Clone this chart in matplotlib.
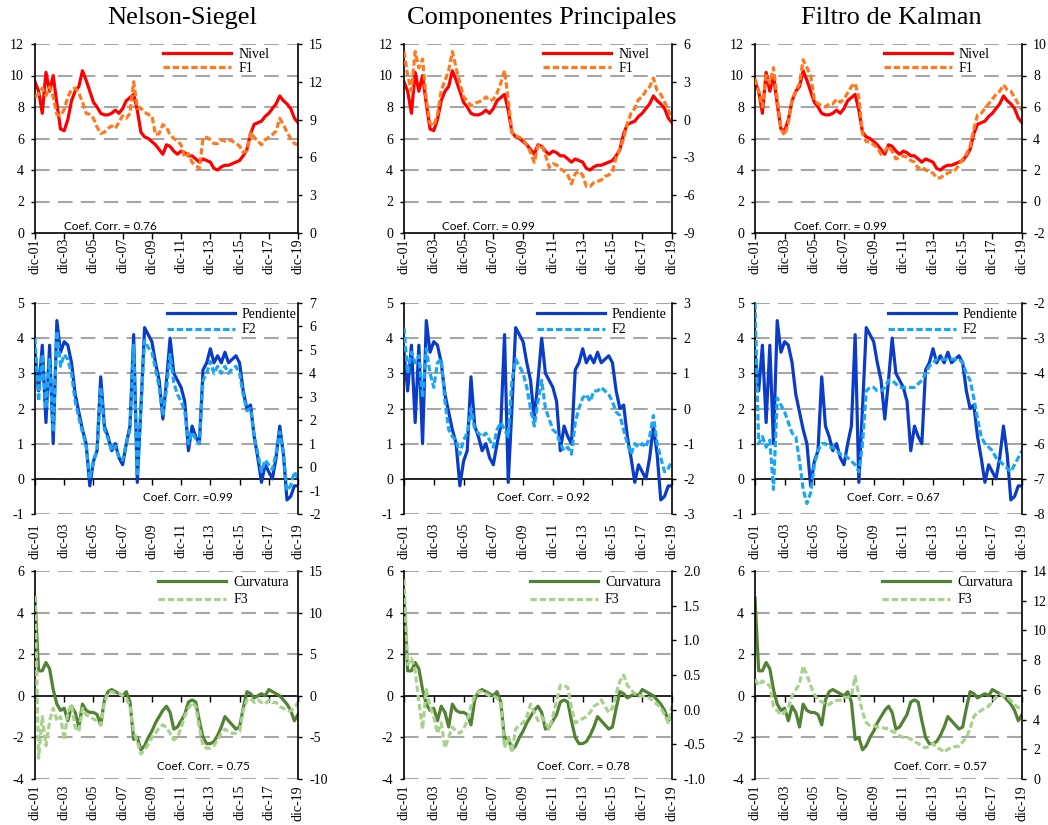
import numpy as np
import pandas as pd
import matplotlib
matplotlib.use('Agg')
import matplotlib.pyplot as plt
import matplotlib.dates as mdates

plt.rcParams['font.family'] = 'Liberation Serif'
plt.rcParams['axes.unicode_minus'] = False

# quarterly samples, dic-01 .. dic-19
dates = pd.date_range('2001-12-01', periods=73, freq='3MS')
tick_dates = pd.date_range('2001-12-01', periods=10, freq='24MS')
tick_labels = ['dic-01', 'dic-03', 'dic-05', 'dic-07', 'dic-09',
               'dic-11', 'dic-13', 'dic-15', 'dic-17', 'dic-19']

titles = ['Nelson-Siegel', 'Componentes Principales', 'Filtro de Kalman']
factor_names = ['Nivel', 'Pendiente', 'Curvatura']
pc_names = ['F1', 'F2', 'F3']

nivel = [9.6, 9.0, 7.6, 10.2, 9.0, 10.0, 8.2, 6.6,
         6.5, 7.2, 8.4, 9.0, 9.3, 10.3, 9.7, 9.0,
         8.3, 8.0, 7.6, 7.5, 7.5, 7.6, 7.8, 7.6,
         7.9, 8.4, 8.6, 8.8, 7.8, 6.4, 6.1, 6.0,
         5.8, 5.6, 5.3, 5.0, 5.6, 5.5, 5.2, 5.0,
         5.2, 5.1, 4.9, 4.9, 4.7, 4.5, 4.7, 4.6,
         4.5, 4.1, 4.0, 4.2, 4.3, 4.3, 4.4, 4.5,
         4.6, 4.9, 5.3, 6.3, 6.9, 7.0, 7.1, 7.4,
         7.6, 7.9, 8.2, 8.7, 8.4, 8.2, 7.9, 7.3, 7.0]

pendiente = [3.6, 2.5, 3.8, 1.6, 3.8, 1.0, 4.5, 3.6,
             3.9, 3.8, 3.3, 2.4, 1.9, 1.4, 1.0, -0.2,
             0.5, 0.8, 2.9, 1.5, 1.2, 0.8, 1.0, 0.6,
             0.4, 1.0, 1.5, 4.1, -0.1, 2.0, 4.3, 4.1,
             3.9, 3.3, 2.8, 1.7, 2.8, 4.0, 3.0, 2.8,
             2.6, 2.2, 0.8, 1.5, 1.2, 1.0, 3.1, 3.3,
             3.7, 3.3, 3.5, 3.3, 3.6, 3.3, 3.4, 3.5,
             3.3, 2.5, 2.0, 2.1, 1.2, 0.6, -0.1, 0.4,
             0.2, 0.0, 0.6, 1.5, 0.7, -0.6, -0.5, -0.2, -0.2]

curvatura = [4.7, 1.2, 1.2, 1.6, 1.3, 0.3, -0.4, -0.7,
             -0.6, -1.2, -0.5, -0.8, -1.5, -0.4, -0.7, -0.8,
             -0.8, -0.9, -1.4, -0.2, 0.2, 0.3, 0.2, 0.1,
             0.0, 0.2, -0.3, -2.1, -2.0, -2.6, -2.4, -2.0,
             -1.7, -1.3, -1.0, -0.7, -0.5, -0.8, -1.6, -1.5,
             -1.2, -0.9, -0.3, -0.2, -0.3, -1.2, -2.0, -2.3,
             -2.3, -2.2, -1.9, -1.5, -1.0, -1.2, -1.4, -1.6,
             -1.5, -0.6, 0.2, 0.1, -0.1, 0.0, 0.1, 0.0,
             0.3, 0.2, 0.1, 0.0, -0.2, -0.4, -0.7, -1.2, -0.9]

f1_ns = [10.8, 11.0, 11.5, 10.9, 11.6, 10.8, 9.4, 9.3,
         9.8, 10.8, 11.4, 11.5, 11.1, 10.4, 9.5, 9.4,
         9.1, 8.4, 7.9, 8.0, 8.3, 8.5, 8.3, 8.8,
         9.3, 9.1, 9.5, 12.0, 9.9, 9.9, 9.6, 9.4,
         9.3, 7.8, 7.9, 8.6, 8.4, 7.8, 7.5, 7.3,
         7.0, 6.0, 6.3, 5.6, 5.4, 5.1, 7.5, 7.6,
         7.4, 7.1, 7.1, 7.4, 7.3, 7.4, 7.3, 7.1,
         6.9, 6.4, 6.5, 8.0, 7.6, 7.3, 7.0, 7.4,
         7.6, 7.8, 8.1, 9.1, 8.6, 8.0, 7.5, 7.1, 7.0]

f1_pc = [5.4, 3.5, 2.3, 5.4, 4.1, 4.8, 1.6, -0.3,
         -0.5, 0.4, 2.3, 3.1, 3.9, 5.4, 4.1, 2.9,
         1.8, 1.5, 1.1, 1.3, 1.4, 1.5, 1.8, 1.5,
         1.6, 2.1, 2.9, 3.9, 1.6, -1.0, -1.3, -1.4,
         -1.6, -2.0, -2.6, -3.4, -2.1, -2.0, -2.8, -3.8,
         -3.5, -3.6, -3.9, -4.1, -4.4, -5.1, -4.3, -4.1,
         -4.4, -5.3, -5.3, -5.0, -4.9, -4.8, -4.5, -4.4,
         -4.1, -3.0, -2.4, -1.5, -0.3, 0.5, 0.9, 1.6,
         1.8, 2.3, 2.6, 3.3, 2.3, 2.0, 1.4, 0.8, 0.0]

f1_kf = [7.8, 7.0, 6.0, 8.0, 7.5, 8.5, 6.5, 4.6,
         4.2, 5.0, 6.5, 7.0, 7.5, 9.0, 8.5, 8.0,
         6.5, 6.2, 6.1, 6.0, 6.2, 6.2, 6.5, 6.3,
         6.5, 6.9, 7.3, 7.5, 6.6, 4.3, 3.8, 3.8,
         3.6, 3.4, 3.0, 3.2, 3.5, 3.2, 2.7, 2.8,
         2.9, 2.8, 2.6, 2.5, 2.1, 2.2, 2.0, 1.9,
         1.8, 1.5, 1.5, 1.7, 1.8, 1.9, 2.0, 2.3,
         2.7, 3.0, 3.5, 4.6, 5.5, 5.6, 5.9, 6.2,
         6.5, 6.8, 7.0, 7.4, 7.1, 7.0, 6.6, 6.2, 5.8]

f2_ns = [5.5, 2.8, 4.8, 2.5, 4.6, 1.5, 5.8, 4.3,
         4.8, 4.6, 4.0, 2.8, 2.1, 1.5, 0.9, -0.5,
         0.3, 0.7, 3.4, 1.6, 1.2, 0.7, 0.9, 0.4,
         0.3, 1.0, 1.6, 5.2, -0.4, 2.5, 5.4, 5.1,
         4.9, 4.2, 3.4, 2.2, 3.3, 4.8, 3.6, 3.1,
         2.8, 2.4, 1.0, 1.5, 1.2, 1.0, 3.7, 4.0,
         4.5, 4.0, 4.3, 4.0, 4.3, 4.0, 4.2, 4.3,
         4.0, 3.1, 2.4, 2.5, 1.3, 0.6, -0.2, 0.3,
         0.1, -0.1, 0.6, 1.5, 0.6, -1.0, -0.8, -0.2, -0.5]

f2_pc = [2.3, 1.0, 1.6, 1.3, 1.5, 0.3, 1.7, 1.0,
         0.6, 1.3, 1.4, 0.2, -0.6, -0.8, -0.9, -1.3,
         -0.9, -0.7, 0.0, -0.6, -0.7, -0.8, -0.7, -0.9,
         -1.1, -0.6, -0.4, -0.6, -0.8, 0.8, 1.4, 1.2,
         1.0, 0.6, 0.0, -0.5, 0.2, 0.8, 0.0, -0.3,
         -0.6, -0.7, -1.0, -1.2, -1.1, -1.3, -0.4, 0.0,
         0.3, 0.4, 0.2, 0.5, 0.5, 0.6, 0.5, 0.4,
         0.2, -0.1, -0.2, -0.6, -1.0, -1.3, -1.0, -1.1,
         -1.0, -1.1, -0.8, -0.2, -1.0, -1.4, -1.8, -1.7, -1.5]

f2_kf = [-2.0, -6.0, -5.8, -6.1, -5.9, -7.3, -4.7, -4.9,
         -5.1, -5.4, -5.7, -5.8, -6.5, -7.3, -7.7, -7.4,
         -6.6, -6.2, -6.0, -6.0, -6.1, -6.1, -6.2, -6.3,
         -6.3, -6.4, -6.5, -6.6, -6.8, -6.0, -4.5, -4.4,
         -4.4, -4.5, -4.5, -4.4, -4.2, -4.2, -4.3, -4.4,
         -4.4, -4.4, -4.4, -4.4, -4.3, -4.2, -4.0, -3.8,
         -3.7, -3.6, -3.6, -3.6, -3.6, -3.6, -3.6, -3.6,
         -3.7, -4.0, -4.2, -4.7, -5.3, -5.8, -6.0, -6.1,
         -6.2, -6.4, -6.5, -6.6, -6.7, -6.8, -6.6, -6.4, -6.2]

f3_ns = [12.0, -7.5, -2.5, -6.0, -3.0, -1.5, -3.0, -2.5,
         -5.3, -2.0, -1.0, -3.8, -4.3, -1.5, -2.3, -2.5,
         -2.8, -3.0, -3.5, -0.8, 0.3, 0.5, 0.3, 0.3,
         0.0, -0.3, -1.3, -4.3, -5.5, -7.0, -6.5, -5.8,
         -5.0, -4.5, -3.8, -3.5, -3.8, -4.5, -5.3, -5.0,
         -3.8, -2.5, -1.5, -0.8, -1.3, -3.8, -6.0, -6.3,
         -6.3, -6.0, -5.3, -4.5, -4.0, -4.3, -4.5, -4.5,
         -4.3, -1.8, -0.5, -0.3, -0.8, -0.5, -0.8, -1.0,
         -0.5, -0.8, -0.8, -1.3, -1.5, -1.8, -1.8, -1.5, -0.8]

f3_pc = [1.88, 0.65, 0.74, 0.56, 0.11, -0.28, 0.29, 0.05,
         -0.10, -0.34, -0.19, -0.55, -0.40, -0.25, -0.31, -0.34,
         -0.28, -0.16, 0.05, 0.20, 0.26, 0.26, 0.23, 0.20,
         0.20, 0.17, 0.08, -0.55, -0.40, -0.61, -0.28, -0.22,
         -0.19, -0.10, 0.08, -0.04, -0.16, -0.10, -0.19, -0.28,
         -0.10, 0.14, 0.35, 0.35, 0.32, 0.02, -0.19, -0.16,
         -0.13, -0.10, -0.04, 0.05, 0.08, 0.14, 0.05, -0.04,
         0.02, 0.23, 0.41, 0.50, 0.35, 0.29, 0.23, 0.20,
         0.20, 0.17, 0.17, 0.11, 0.08, 0.02, -0.07, -0.19, 0.05]

f3_kf = [6.7, 6.3, 6.6, 6.4, 6.3, 4.9, 4.6, 4.3,
         4.5, 4.8, 5.6, 6.0, 6.4, 7.6, 7.0, 6.3,
         5.7, 5.3, 5.2, 5.0, 5.0, 5.2, 5.3, 5.3,
         5.5, 5.5, 5.6, 6.9, 5.6, 4.5, 3.8, 3.6,
         3.6, 3.5, 3.5, 3.4, 3.4, 3.2, 3.1, 2.9,
         2.8, 2.8, 2.7, 2.5, 2.4, 2.2, 2.1, 2.2,
         2.4, 2.1, 2.0, 1.8, 2.0, 2.1, 2.2, 2.2,
         2.5, 2.8, 3.4, 4.2, 4.5, 4.6, 4.8, 4.9,
         5.2, 5.5, 5.7, 5.6, 5.5, 5.3, 5.0, 4.8, 4.8]

corr_text = [['Coef. Corr. = 0.76', 'Coef. Corr. = 0.99', 'Coef. Corr. = 0.99'],
             ['Coef. Corr. =0.99', 'Coef. Corr. = 0.92', 'Coef. Corr. = 0.67'],
             ['Coef. Corr. = 0.75', 'Coef. Corr. = 0.78', 'Coef. Corr. = 0.57']]

factors = [nivel, pendiente, curvatura]
pcs = [[f1_ns, f1_pc, f1_kf], [f2_ns, f2_pc, f2_kf], [f3_ns, f3_pc, f3_kf]]

left_ticks = [np.arange(0, 13, 2), np.arange(-1, 6, 1), np.arange(-4, 7, 2)]
right_ticks = [[np.arange(0, 16, 3), np.arange(-9, 7, 3), np.arange(-2, 11, 2)],
               [np.arange(-2, 8, 1), np.arange(-3, 4, 1), np.arange(-8, -1, 1)],
               [np.arange(-10, 16, 5), np.arange(-1.0, 2.01, 0.5), np.arange(0, 15, 2)]]

solid_colors = ['#FF0000', '#0A3CC8', '#548235']
dash_colors = ['#FF7A1F', '#1AA6F2', '#A9D18E']
grid_color = '#A6A6A6'

# layout in pixels
W, H = 1048, 825
col_left = [35, 404, 755]
col_right = [298, 672, 1022]
row_top = [44, 303, 571]
row_bot = [233, 514, 779]
title_x = [182, 542, 891]
label_pad = [3.6, 6.5, 4.3]
legend_x = [[0.487, 0.519, 0.483], [0.50, 0.496, 0.498], [0.468, 0.47, 0.476]]
legend_space = [0.05, 0.2, 0.35]
corr_x = [[0.11, 0.142, 0.146], [0.41, 0.347, 0.345], [0.464, 0.496, 0.52]]
corr_y = [0.032, 0.076, 0.058]

x = mdates.date2num(dates)
tick_x = mdates.date2num(tick_dates)

fig = plt.figure(figsize=(W / 100, H / 100), dpi=100)

for c in range(3):
    fig.text(title_x[c] / W, 1 - 18 / H, titles[c], fontsize=19, ha='center', va='center')

for r in range(3):
    for c in range(3):
        l, rr, t, b = col_left[c], col_right[c], row_top[r], row_bot[r]
        ax = fig.add_axes([l / W, 1 - b / H, (rr - l) / W, (b - t) / H])
        yl = left_ticks[r]
        ax.set_xlim(tick_x[0], tick_x[-1])
        ax.set_ylim(yl[0], yl[-1])
        for yv in yl:
            if yv != 0:
                ax.axhline(yv, color=grid_color, lw=1.5, ls=(0, (7, 4)), zorder=0)
        l1, = ax.plot(x, factors[r], color=solid_colors[r], lw=2.3, zorder=2,
                      label=factor_names[r])
        ax.set_yticks(yl)
        ax.set_yticklabels([f'{v:g}' for v in yl])
        ax.tick_params(axis='y', direction='out', length=3, width=1, labelsize=10, pad=5)
        ax.set_xticks(tick_x)
        ax.set_xticklabels(tick_labels, rotation=90)
        ax.tick_params(axis='x', length=0, labelsize=10, pad=label_pad[r])
        for s in ['top', 'right', 'bottom']:
            ax.spines[s].set_visible(False)
        ax.spines['left'].set_linewidth(1.2)

        # axis line at zero with ticks
        frac = -yl[0] / (yl[-1] - yl[0])
        sec = ax.secondary_xaxis(frac)
        sec.set_xticks(tick_x)
        sec.set_xticklabels([])
        sec.tick_params(direction='out', length=4, width=1)
        for s in sec.spines.values():
            s.set_linewidth(1.2)

        ax2 = ax.twinx()
        yr = right_ticks[r][c]
        l2, = ax2.plot(x, pcs[r][c], color=dash_colors[r], lw=2.3, dashes=(2.0, 0.9),
                       label=pc_names[r])
        ax2.set_ylim(yr[0], yr[-1])
        ax2.set_yticks(yr)
        fmt = '{:.1f}' if (r == 2 and c == 1) else '{:g}'
        ax2.set_yticklabels([fmt.format(round(v, 2)) for v in yr])
        ax2.tick_params(axis='y', direction='out', length=3, width=1, labelsize=10, pad=5)
        for s in ['top', 'left', 'bottom']:
            ax2.spines[s].set_visible(False)
        ax2.spines['right'].set_linewidth(1.2)

        ax2.legend([l1, l2], [factor_names[r], pc_names[r]], loc='upper left',
                   bbox_to_anchor=(legend_x[r][c], 0.978), frameon=False, fontsize=10,
                   handlelength=4.9, handletextpad=0.5, borderpad=0, borderaxespad=0,
                   labelspacing=legend_space[r])
        ax2.text(corr_x[r][c], corr_y[r], corr_text[r][c], transform=ax2.transAxes,
                 family='Lato', fontsize=8.5, va='center', ha='left')

fig.savefig('out.png', dpi=100)
